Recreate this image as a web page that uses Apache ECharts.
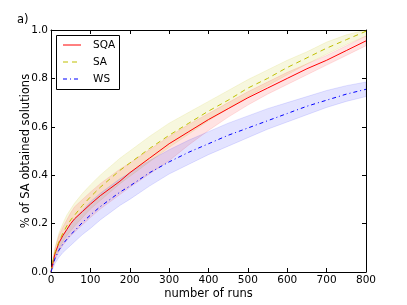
<!DOCTYPE html>
<html><head><meta charset="utf-8">
<script src="https://cdn.jsdelivr.net/npm/echarts@6/dist/echarts.min.js"></script>
<style>html,body{margin:0;padding:0;background:#fff}#c{width:407px;height:305px}</style>
</head><body><div id="c"></div>
<script>
const runs   = [0,5,10,20,30,40,50,60,80,100,125,150,175,200,250,300,350,400,450,500,550,600,650,700,750,800];
const sqa    = [0,0.04,0.075,0.12,0.15,0.175,0.20,0.22,0.25,0.28,0.315,0.345,0.375,0.41,0.47,0.53,0.58,0.63,0.675,0.72,0.76,0.80,0.84,0.875,0.915,0.955];
const sqaLo  = [0,0.025,0.05,0.085,0.11,0.13,0.15,0.165,0.195,0.225,0.26,0.29,0.32,0.35,0.405,0.46,0.525,0.585,0.64,0.69,0.735,0.775,0.815,0.855,0.895,0.935];
const sqaHi  = [0,0.055,0.095,0.15,0.185,0.215,0.245,0.27,0.30,0.33,0.365,0.395,0.425,0.45,0.505,0.56,0.61,0.655,0.70,0.745,0.785,0.825,0.86,0.895,0.935,0.975];
const sa     = [0,0.045,0.08,0.125,0.16,0.19,0.215,0.235,0.275,0.31,0.35,0.385,0.42,0.45,0.51,0.565,0.615,0.665,0.71,0.76,0.80,0.845,0.885,0.925,0.96,0.995];
const saLo   = [0,0.03,0.06,0.095,0.125,0.15,0.17,0.19,0.225,0.26,0.295,0.33,0.365,0.395,0.455,0.515,0.57,0.625,0.675,0.725,0.77,0.815,0.86,0.9,0.94,0.975];
const saHi   = [0,0.06,0.10,0.16,0.20,0.235,0.26,0.285,0.325,0.36,0.40,0.435,0.47,0.50,0.56,0.615,0.66,0.705,0.75,0.795,0.835,0.875,0.91,0.95,0.98,1.0];
const ws     = [0,0.03,0.055,0.09,0.115,0.135,0.155,0.17,0.205,0.235,0.27,0.30,0.33,0.355,0.41,0.455,0.495,0.53,0.565,0.595,0.625,0.655,0.685,0.71,0.735,0.755];
const wsLo   = [0,0.015,0.035,0.06,0.08,0.095,0.11,0.125,0.155,0.18,0.215,0.245,0.275,0.30,0.355,0.405,0.445,0.485,0.52,0.555,0.59,0.62,0.65,0.68,0.705,0.725];
const wsHi   = [0,0.045,0.075,0.12,0.15,0.175,0.2,0.22,0.255,0.29,0.325,0.355,0.385,0.41,0.46,0.505,0.545,0.58,0.615,0.645,0.675,0.70,0.725,0.75,0.77,0.785];
const seriesNames = ['SQA','SA','WS'];

const F = 'DejaVu Sans';
const pairs = arr => runs.map((x,i)=>[x,arr[i]]);
function band(lo, hi, color){
  return {
    type:'custom', silent:true, z:1, clip:true,
    data:[[0,0]], encode:{x:0,y:1},
    renderItem:(params, api)=>{
      const pts=[];
      for(let i=0;i<runs.length;i++) pts.push(api.coord([runs[i], hi[i]]));
      for(let i=runs.length-1;i>=0;i--) pts.push(api.coord([runs[i], lo[i]]));
      return {type:'polygon', shape:{points:pts}, style:{fill:color, stroke:color, lineWidth:1}};
    }
  };
}
const chart = echarts.init(document.getElementById('c'), null, {renderer:'canvas'});
const axLine = {show:true, onZero:false, lineStyle:{color:'#000', width:1}};
const tick = {show:true, inside:true, length:4, lineStyle:{color:'#000'}};
const colors = {SQA:'#ff0000', SA:'#bfbf00', WS:'#0000ff'};
const dashes = {SQA:[18,0], SA:[5,4], WS:[4,3,1,3]};
const legendGraphics = [{type:'rect', id:'lgbox', shape:{x:56.5, y:35.5, width:63, height:54}, style:{fill:'#fff', stroke:'#000', lineWidth:1}, z:10}];
seriesNames.forEach((n,i)=>{
  const y = 45 + i*17;
  legendGraphics.push({type:'polyline', id:'lgl'+i, shape:{points:[[63,y],[81,y]]}, style:{stroke:colors[n], fill:null, lineWidth:1, lineDash:dashes[n]}, z:11});
  legendGraphics.push({type:'text', id:'lgt'+i, x:93, y:y, style:{text:n, font:'10.5px "DejaVu Sans"', fill:'#000', verticalAlign:'middle'}, z:11});
});
chart.setOption({
  animation:false,
  grid:{left:51, right:41, top:30, bottom:32},
  graphic:[{type:'text', id:'panel', x:17, y:14, style:{text:'a)', font:'11.5px "DejaVu Sans"', fill:'#000'}}, ...legendGraphics],
  xAxis:[
    {type:'value', min:0, max:800, interval:100, position:'bottom',
     axisLine:axLine, axisTick:tick, splitLine:{show:false},
     axisLabel:{fontFamily:F, fontSize:10.5, color:'#000', margin:3},
     name:'number of runs', nameLocation:'middle', nameGap:16, nameMoveOverlap:false,
     nameTextStyle:{fontFamily:F, fontSize:11.5, color:'#000'}},
    {type:'value', min:0, max:800, interval:100, position:'top',
     axisLine:axLine, axisTick:tick, splitLine:{show:false}, axisLabel:{show:false}}
  ],
  yAxis:[
    {type:'value', min:0, max:1, interval:0.2, position:'left',
     axisLine:axLine, axisTick:tick, splitLine:{show:false},
     axisLabel:{fontFamily:F, fontSize:10.5, color:'#000', margin:3, formatter:v=>v.toFixed(1)},
     name:'% of SA obtained solutions', nameLocation:'middle', nameGap:19, nameMoveOverlap:false,
     nameTextStyle:{fontFamily:F, fontSize:11.5, color:'#000'}},
    {type:'value', min:0, max:1, interval:0.2, position:'right',
     axisLine:axLine, axisTick:tick, splitLine:{show:false}, axisLabel:{show:false}}
  ],
  series:[
    band(saLo, saHi, 'rgba(191,191,0,0.13)'),
    band(sqaLo, sqaHi, 'rgba(255,0,0,0.11)'),
    band(wsLo, wsHi, 'rgba(0,0,255,0.11)'),
    {type:'line', name:'SQA', data:pairs(sqa), symbol:'none', lineStyle:{color:colors.SQA, width:1}, z:3},
    {type:'line', name:'SA', data:pairs(sa), symbol:'none', lineStyle:{color:colors.SA, width:1, type:dashes.SA}, z:3},
    {type:'line', name:'WS', data:pairs(ws), symbol:'none', lineStyle:{color:colors.WS, width:1, type:dashes.WS}, z:3},
    {type:'line', name:'frame', xAxisIndex:1, yAxisIndex:1, data:[[0,0]], symbol:'none', lineStyle:{opacity:0}, silent:true}
  ]
});
</script></body></html>
